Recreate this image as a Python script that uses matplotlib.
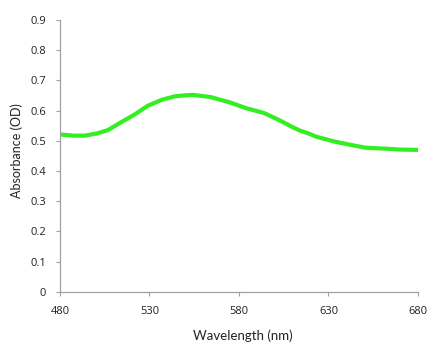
import matplotlib
matplotlib.use("Agg")
import matplotlib.pyplot as plt

# ----- Data -----
wavelength = [480, 488, 494, 501, 507, 514, 522, 529, 537, 544, 549, 554, 564, 575,
              584, 594, 603, 610, 614, 619, 623, 633, 642, 651, 662, 670, 680]
absorbance = [0.521, 0.517, 0.517, 0.525, 0.536, 0.561, 0.588, 0.616, 0.636, 0.647,
              0.650, 0.652, 0.645, 0.627, 0.608, 0.592, 0.567, 0.545, 0.534, 0.524,
              0.514, 0.498, 0.487, 0.477, 0.474, 0.471, 0.470]
x_ticks = [480, 530, 580, 630, 680]
y_ticks = [0, 0.1, 0.2, 0.3, 0.4, 0.5, 0.6, 0.7, 0.8, 0.9]
y_tick_labels = ["0", "0.1", "0.2", "0.3", "0.4", "0.5", "0.6", "0.7", "0.8", "0.9"]

plt.rcParams['font.family'] = ['Open Sans', 'DejaVu Sans']

fig = plt.figure(figsize=(4.3, 3.56), dpi=100)
ax = fig.add_axes([0.1395, 0.18, 0.8325, 0.764])

ax.plot(wavelength, absorbance, color="#33ee22", linewidth=3.0,
        solid_capstyle="butt", solid_joinstyle="round")

ax.set_xlim(480, 680)
ax.set_ylim(0, 0.9)
ax.set_xticks(x_ticks)
ax.set_yticks(y_ticks)
ax.set_yticklabels(y_tick_labels)

for side in ("top", "right"):
    ax.spines[side].set_visible(False)
for side in ("left", "bottom"):
    ax.spines[side].set_color("#a0a0a0")
    ax.spines[side].set_linewidth(0.9)

ax.tick_params(axis="both", colors="#a0a0a0", labelcolor="#222222",
               labelsize=8, length=3, width=0.8)
ax.tick_params(axis="x", pad=7)
ax.tick_params(axis="y", pad=7)

ax.set_xlabel("Wavelength (nm)", fontsize=9.5, family=["Lato", "DejaVu Sans"],
              color="#222222", va="center")
ax.set_ylabel("Absorbance (OD)", fontsize=9, family=["Lato", "DejaVu Sans"],
              color="#222222", va="center")
ax.xaxis.set_label_coords(0.51, -0.162)
ax.yaxis.set_label_coords(-0.1215, 0.52)

fig.savefig("out.png", dpi=100)
